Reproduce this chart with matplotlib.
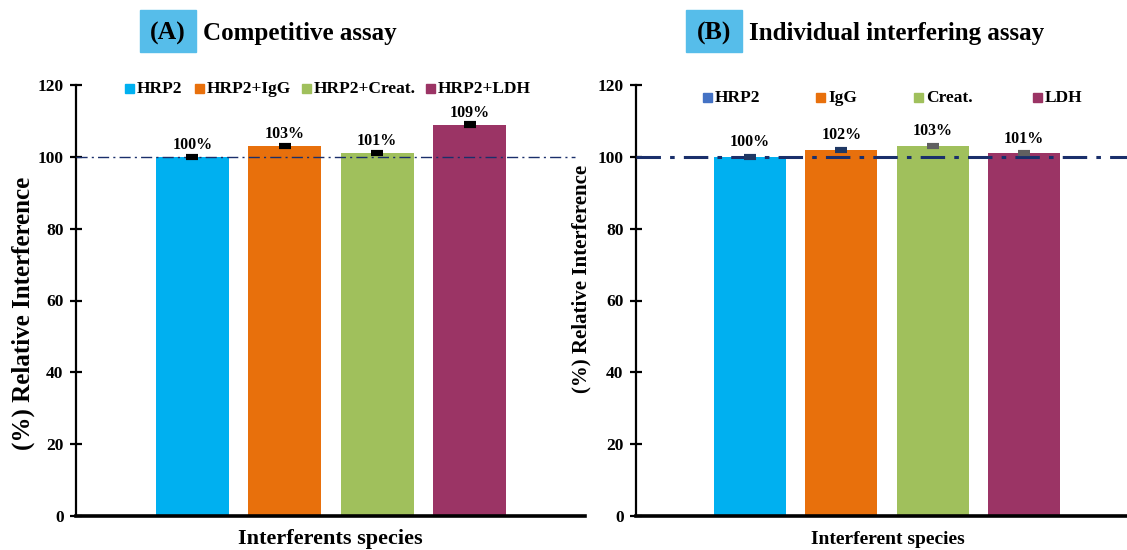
import matplotlib.pyplot as plt
from matplotlib.patches import Rectangle

plt.rcParams['font.family'] = 'Liberation Serif'
plt.rcParams['font.weight'] = 'bold'

# panel A - competitive assay
labels_a = ['HRP2', 'HRP2+IgG', 'HRP2+Creat.', 'HRP2+LDH']
values_a = [100, 103, 101, 109]
errors_a = [0.3, 0.3, 0.3, 0.3]

# panel B - individual interfering assay
labels_b = ['HRP2', 'IgG', 'Creat.', 'LDH']
values_b = [100, 102, 103, 101]
errors_b = [0.3, 0.3, 0.3, 0.3]

bar_colors = ['#00B0F0', '#E8700C', '#A0C05C', '#9B3465']
legend_colors_b = ['#4472C4', '#E8700C', '#A0C05C', '#9B3465']
err_colors_a = ['black'] * 4
err_colors_b = ['#1F3864', '#1F3864', '#606060', '#606060']

W, H = 1127, 550
fig = plt.figure(figsize=(W / 100, H / 100), dpi=100)


def px(x0, y0, x1, y1):
    # pixel box (top-left origin) -> figure fraction rect
    return [x0 / W, 1 - y1 / H, (x1 - x0) / W, (y1 - y0) / H]


def draw_panel(ax, values, errors, err_colors, xlim, ref_end, ref_lw, label_off):
    xs = range(len(values))
    ax.bar(xs, values, width=0.79, color=bar_colors, zorder=2)
    for x, v, e, c in zip(xs, values, errors, err_colors):
        ax.errorbar(x, v, yerr=e, fmt='none', ecolor=c, elinewidth=1.5,
                    capsize=4, capthick=3, zorder=4)
        ax.annotate(f'{v}%', (x, v + e), xytext=(0, label_off),
                    textcoords='offset points', ha='center', va='bottom',
                    fontsize=11.5, fontweight='bold')
    ax.plot([0, ref_end], [100, 100], transform=ax.get_yaxis_transform(),
            color='#1A2F6B', lw=ref_lw, ls=(0, (8, 3, 1.5, 3)), zorder=3)
    ax.set_xlim(*xlim)
    ax.set_ylim(0, 120)
    ax.set_yticks(range(0, 121, 20))
    ax.set_xticks([])
    for s in ['top', 'right']:
        ax.spines[s].set_visible(False)
    ax.spines['left'].set_linewidth(1.6)
    ax.spines['bottom'].set_linewidth(2.6)
    ax.tick_params(axis='y', direction='inout', length=8, width=1.6,
                   labelsize=12.5, pad=5)
    for t in ax.get_yticklabels():
        t.set_fontweight('bold')


def draw_legend(labels, colors, xs, y):
    for lab, c, x in zip(labels, colors, xs):
        fig.patches.append(Rectangle((x / W, 1 - (y + 4.5) / H), 9 / W, 9 / H,
                                     transform=fig.transFigure, color=c))
        fig.text((x + 12) / W, 1 - (y + 5) / H, lab, ha='left', va='baseline',
                 fontsize=12.5, fontweight='bold')


def draw_title(tag, text, box, text_x, y):
    x0, y0, x1, y1 = box
    fig.patches.append(Rectangle((x0 / W, 1 - y1 / H), (x1 - x0) / W, (y1 - y0) / H,
                                 transform=fig.transFigure, color='#56BDEA'))
    fig.text((x0 + x1) / 2 / W, 1 - y / H, tag, ha='center', va='baseline',
             fontsize=18.5, fontweight='bold')
    fig.text(text_x / W, 1 - y / H, text, ha='left', va='baseline',
             fontsize=18, fontweight='bold')


ax_a = fig.add_axes(px(76, 85, 585, 516))
draw_panel(ax_a, values_a, errors_a, err_colors_a, (-1.257, 4.246), 0.98, 1.0, 2)
ax_a.set_ylabel('(%) Relative Interference', fontsize=18, fontweight='bold')
ax_a.yaxis.set_label_coords(-0.08, 0.471)
fig.text(330 / W, 1 - 549 / H, 'Interferents species', ha='center',
         va='bottom', fontsize=16, fontweight='bold')

ax_b = fig.add_axes(px(636, 85, 1140, 516))
draw_panel(ax_b, values_b, errors_b, err_colors_b, (-1.249, 4.27), 1.0, 2.2, 4)
ax_b.set_ylabel('(%) Relative Interference', fontsize=15, fontweight='bold')
ax_b.yaxis.set_label_coords(-0.088, 0.55)
fig.text(888 / W, 1 - 539 / H, 'Interferent species', ha='center',
         va='center', fontsize=14, fontweight='bold')

draw_legend(labels_a, bar_colors, [125, 195, 302, 426], 88)
draw_legend(labels_b, legend_colors_b, [703, 816, 914, 1033], 97)

draw_title('(A)', 'Competitive assay', (140, 10, 196, 52), 203, 40)
draw_title('(B)', 'Individual interfering assay', (686, 10, 742, 52), 749, 40)

fig.savefig('out.png', dpi=100)
